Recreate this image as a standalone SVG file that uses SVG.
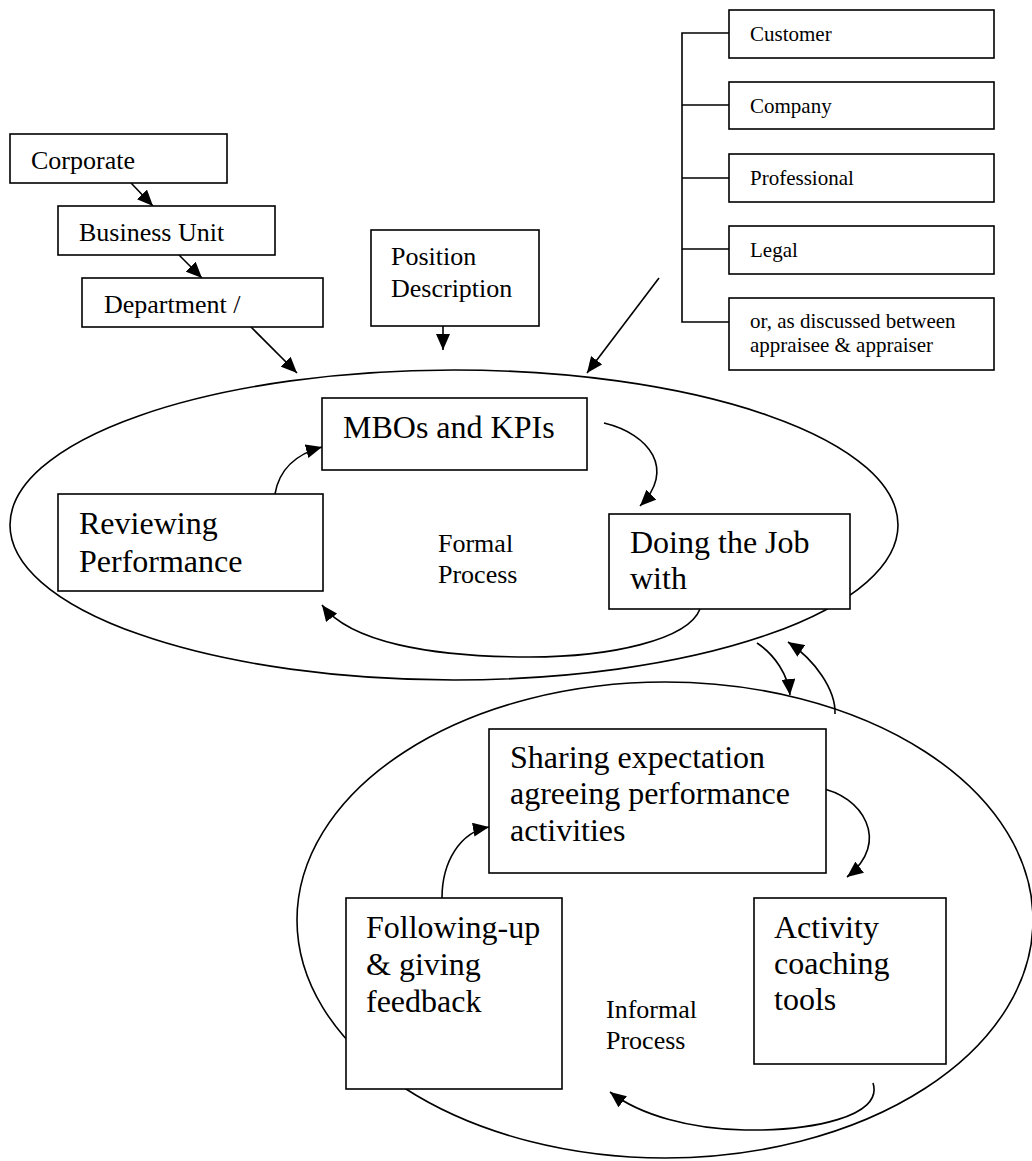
<svg xmlns="http://www.w3.org/2000/svg" width="1032" height="1161" viewBox="0 0 1032 1161">
<style>
  .box { fill: #fff; stroke: #000; stroke-width: 1.6; }
  .ell { fill: none; stroke: #000; stroke-width: 1.6; }
  .ln { fill: none; stroke: #000; stroke-width: 1.6; }
  .arr { fill: none; stroke: #000; stroke-width: 1.6; marker-end: url(#ah); }
  text { font-family: "Liberation Serif", "Times New Roman", serif; fill: #000; }
  .t26 { font-size: 26px; }
  .t32 { font-size: 32px; }
  .t21 { font-size: 21px; }
</style>
<defs>
  <marker id="ah" markerUnits="userSpaceOnUse" markerWidth="17" markerHeight="14" refX="16" refY="7" orient="auto">
    <path d="M0,0 L16,7 L0,14 z" fill="#000"/>
  </marker>
</defs>

<g id="ellipses">
  <ellipse class="ell" cx="454" cy="525" rx="444" ry="155"/>
  <ellipse class="ell" cx="665" cy="920" rx="368" ry="238"/>
</g>

<g id="connectors">
  <line class="arr" x1="131" y1="183" x2="153" y2="206"/>
  <line class="arr" x1="179" y1="255" x2="202" y2="278"/>
  <line class="arr" x1="251" y1="327" x2="297" y2="373"/>
  <line class="arr" x1="443" y1="326" x2="443" y2="350"/>
  <line class="arr" x1="659" y1="278" x2="587" y2="373"/>
  <path class="ln" d="M729,33 H682 V322 H729 M682,105 H729 M682,178 H729 M682,249 H729"/>
  <path class="arr" d="M275,494 C279,470 296,454 322,447"/>
  <path class="arr" d="M604,423 C650,434 676,470 640,506"/>
  <path class="arr" d="M700,609 C688,640 610,657 530,657 C430,657 350,642 322,605"/>
  <path class="arr" d="M757,643 C775,655 788,675 790,695"/>
  <path class="arr" d="M835,714 C836,690 815,660 788,642"/>
  <path class="arr" d="M442,898 C442,862 460,832 489,827"/>
  <path class="arr" d="M819,788 C862,795 892,842 847,877"/>
  <path class="arr" d="M873,1083 C884,1117 810,1131 745,1130 C690,1129 640,1115 610,1092"/>
</g>

<g id="corporate">
  <rect class="box" x="10" y="134" width="217" height="49"/>
  <text class="t26" x="31" y="169">Corporate</text>
</g>
<g id="business-unit">
  <rect class="box" x="58" y="206" width="217" height="49"/>
  <text class="t26" x="79" y="241">Business Unit</text>
</g>
<g id="department">
  <rect class="box" x="82" y="278" width="241" height="49"/>
  <text class="t26" x="104" y="313">Department /</text>
</g>
<g id="position-description">
  <rect class="box" x="371" y="230" width="168" height="96"/>
  <text class="t26" x="391" y="265">Position</text>
  <text class="t26" x="391" y="297">Description</text>
</g>

<g id="customer">
  <rect class="box" x="729" y="10" width="265" height="48"/>
  <text class="t21" x="750" y="41">Customer</text>
</g>
<g id="company">
  <rect class="box" x="729" y="82" width="265" height="47"/>
  <text class="t21" x="750" y="113">Company</text>
</g>
<g id="professional">
  <rect class="box" x="729" y="154" width="265" height="48"/>
  <text class="t21" x="750" y="185">Professional</text>
</g>
<g id="legal">
  <rect class="box" x="729" y="226" width="265" height="48"/>
  <text class="t21" x="750" y="257">Legal</text>
</g>
<g id="discussed">
  <rect class="box" x="729" y="298" width="265" height="72"/>
  <text class="t21" x="750" y="328">or, as discussed between</text>
  <text class="t21" x="750" y="352">appraisee &amp; appraiser</text>
</g>

<g id="mbos">
  <rect class="box" x="322" y="398" width="265" height="72"/>
  <text class="t32" x="343" y="438">MBOs and KPIs</text>
</g>
<g id="reviewing">
  <rect class="box" x="58" y="494" width="265" height="97"/>
  <text class="t32" x="79" y="534">Reviewing</text>
  <text class="t32" x="79" y="572">Performance</text>
</g>
<g id="doing">
  <rect class="box" x="609" y="514" width="241" height="95"/>
  <text class="t32" x="630" y="553">Doing the Job</text>
  <text class="t32" x="630" y="589">with</text>
</g>
<g id="formal-label">
  <text class="t26" x="438" y="552">Formal</text>
  <text class="t26" x="438" y="583">Process</text>
</g>

<g id="sharing">
  <rect class="box" x="489" y="729" width="337" height="144"/>
  <text class="t32" x="510" y="768">Sharing expectation</text>
  <text class="t32" x="510" y="804">agreeing performance</text>
  <text class="t32" x="510" y="841">activities</text>
</g>
<g id="following">
  <rect class="box" x="346" y="898" width="216" height="191"/>
  <text class="t32" x="366" y="938">Following-up</text>
  <text class="t32" x="366" y="975">&amp; giving</text>
  <text class="t32" x="366" y="1012">feedback</text>
</g>
<g id="activity">
  <rect class="box" x="754" y="898" width="192" height="166"/>
  <text class="t32" x="774" y="938">Activity</text>
  <text class="t32" x="774" y="974">coaching</text>
  <text class="t32" x="774" y="1010">tools</text>
</g>
<g id="informal-label">
  <text class="t26" x="606" y="1018">Informal</text>
  <text class="t26" x="606" y="1049">Process</text>
</g>
</svg>
